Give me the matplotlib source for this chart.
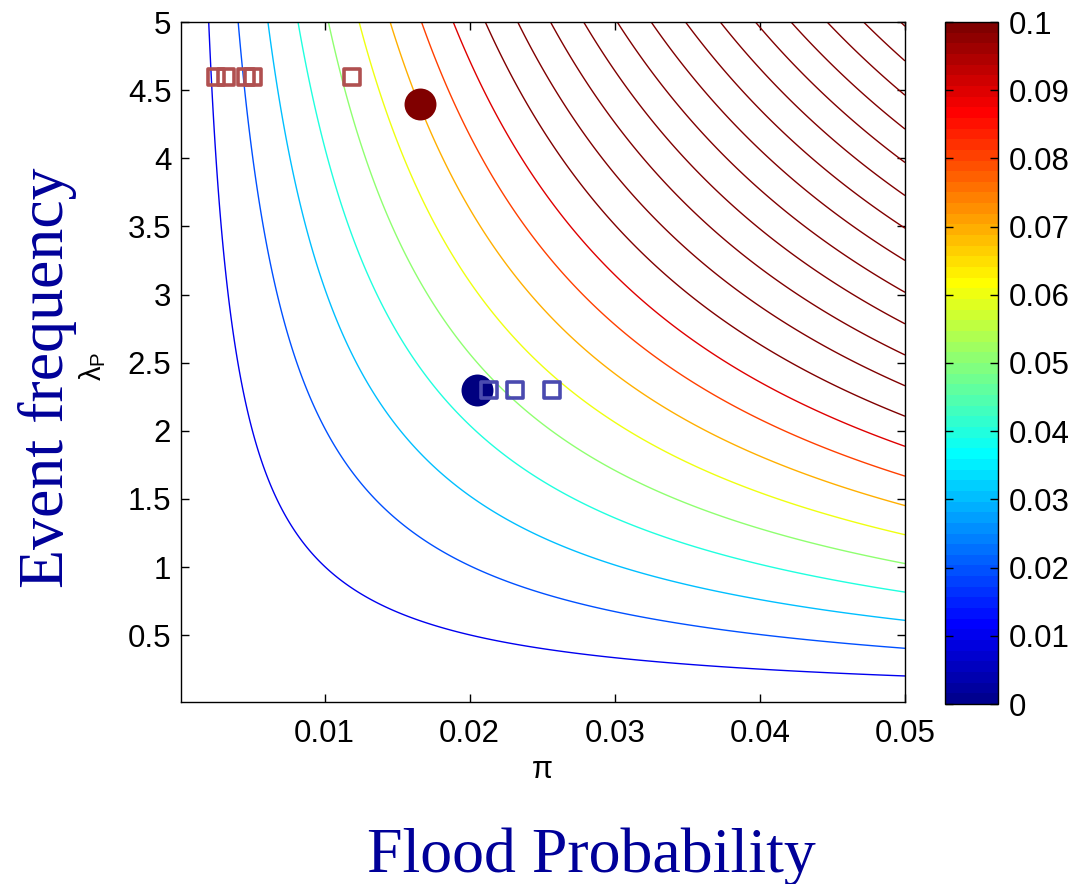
import math
import numpy as np
import matplotlib
matplotlib.use("Agg")
import matplotlib.pyplot as plt
from matplotlib.markers import MarkerStyle
from matplotlib.colors import Normalize, ListedColormap
from matplotlib.cm import ScalarMappable

# ---- data ----
pi_range = (0.0001, 0.05)          # flood probability axis range
lam_range = (0.01, 5.0)            # event frequency axis range
contour_levels = [0.01, 0.02, 0.03, 0.04, 0.05, 0.06, 0.07, 0.08, 0.09, 0.10,
                  0.11, 0.12, 0.13, 0.14, 0.15, 0.16, 0.17, 0.18, 0.19, 0.20,
                  0.21, 0.22]

red_sq_pi = [0.00252, 0.00321, 0.00455, 0.00507, 0.0119]
red_sq_lam = [4.6, 4.6, 4.6, 4.6, 4.6]
blue_sq_pi = [0.0213, 0.0231, 0.0257]
blue_sq_lam = [2.3, 2.3, 2.3]
red_pt = (0.0166, 4.4)
blue_pt = (0.0205, 2.3)

xticks = [0.01, 0.02, 0.03, 0.04, 0.05]
xticklabels = ['0.01', '0.02', '0.03', '0.04', '0.05']
yticks = [0.5, 1, 1.5, 2, 2.5, 3, 3.5, 4, 4.5, 5]
yticklabels = ['0.5', '1', '1.5', '2', '2.5', '3', '3.5', '4', '4.5', '5']
cbticks = [0, 0.01, 0.02, 0.03, 0.04, 0.05, 0.06, 0.07, 0.08, 0.09, 0.1]
cbticklabels = ['0', '0.01', '0.02', '0.03', '0.04', '0.05', '0.06', '0.07', '0.08', '0.09', '0.1']


def matlab_jet(m=64):
    n = math.ceil(m / 4)
    u = np.concatenate([np.arange(1, n + 1) / n, np.ones(n - 1), np.arange(n, 0, -1) / n])
    g = math.ceil(n / 2) - (1 if m % 4 == 1 else 0) + np.arange(1, len(u) + 1)
    r = g + n
    b = g - n
    J = np.zeros((m, 3))
    for ch, idx in ((0, r), (1, g), (2, b)):
        ok = (idx >= 1) & (idx <= m)
        J[idx[ok] - 1, ch] = u[ok]
    return ListedColormap(J)


# ---- figure ----
plt.rcParams['font.family'] = ['Liberation Sans', 'DejaVu Sans']
W, H = 1073, 884
fig = plt.figure(figsize=(W / 100, H / 100), dpi=100)
ax = fig.add_axes([181 / W, 1 - 702 / H, 724 / W, 680 / H])
cax = fig.add_axes([945 / W, 1 - 704 / H, 53 / W, 682 / H])

cmap = matlab_jet(64)
norm = Normalize(vmin=0, vmax=0.1)

p = np.linspace(pi_range[0], pi_range[1], 600)
l = np.linspace(lam_range[0], lam_range[1], 600)
P, L = np.meshgrid(p, l)
Z = 1 - np.exp(-P * L)
ax.contour(P, L, Z, levels=contour_levels, cmap=cmap, norm=norm, linewidths=1.0)

sq_red = MarkerStyle('s', fillstyle='none', joinstyle='round')
sq_blue = MarkerStyle('s', fillstyle='none', joinstyle='round')
ax.plot([red_pt[0]], [red_pt[1]], 'o', color='#800000', ms=23, mec='none', zorder=3)
ax.plot([blue_pt[0]], [blue_pt[1]], 'o', color='#000080', ms=23, mec='none', zorder=3)
ax.plot(red_sq_pi, red_sq_lam, ls='none', marker=sq_red, ms=12, mew=2.6,
        mec='#b05050', zorder=4)
ax.plot(blue_sq_pi, blue_sq_lam, ls='none', marker=sq_blue, ms=12, mew=2.6,
        mec='#4a4ab0', zorder=4)

ax.set_xlim(*pi_range)
ax.set_ylim(*lam_range)
ax.set_xticks(xticks)
ax.set_xticklabels(xticklabels)
ax.set_yticks(yticks)
ax.set_yticklabels(yticklabels)
ax.tick_params(direction='in', top=True, right=True, length=6, width=1,
               labelsize=22.5, pad=7)
ax.tick_params(axis='x', pad=12)
for s in ax.spines.values():
    s.set_linewidth(1.0)

sm = ScalarMappable(norm=norm, cmap=cmap)
cb = fig.colorbar(sm, cax=cax, ticks=cbticks)
cb.ax.set_yticklabels(cbticklabels)
cb.ax.tick_params(direction='in', left=True, right=True, length=6, width=1,
                  labelsize=22.5, pad=8)
cb.outline.set_linewidth(1.0)

fig.text(93 / W, 1 - 366 / H, r'$\mathregular{\lambda_P}$', rotation=90,
         ha='center', va='center', fontsize=21)
fig.text(542 / W, 1 - 770 / H, r'$\mathregular{\pi}$', ha='center', va='center',
         fontsize=22)

fig.text(48 / W, 1 - 378 / H, 'Event frequency', rotation=90, ha='center',
         va='center', fontsize=46, family='Liberation Serif', color='#000099')
fig.text(591 / W, 1 - 872 / H, 'Flood Probability', ha='center',
         va='baseline', fontsize=46, family='Liberation Serif', color='#000099')

fig.savefig('out.png', dpi=100)
